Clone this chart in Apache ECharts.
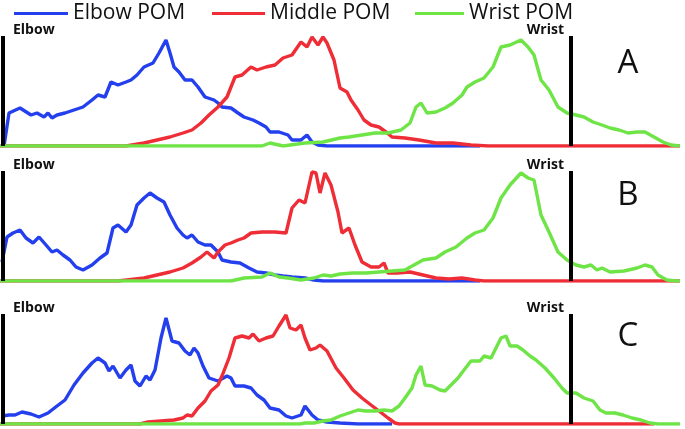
<!DOCTYPE html>
<html>
<head>
<meta charset="utf-8">
<script src="https://cdn.jsdelivr.net/npm/echarts@6/dist/echarts.min.js"></script>
<style>
  html, body { margin: 0; padding: 0; background: #fff; }
  #chart { width: 685px; height: 429px; }
</style>
</head>
<body>
<div id="chart"></div>
<script>
// names
var seriesNames = ['Elbow POM', 'Middle POM', 'Wrist POM'];
var panelNames = ['A', 'B', 'C'];
var elbowPos = 3, wristPos = 571;   // position of the two electrodes

// panel A  [position, signal]
var blueA = [[4,0],[9,33],[20,38],[22,39],[31,31],[37,33],[44,29],[48,33],[52,28],[57,31],[65,33],[74,36],[83,39],[92,46],[98,51],[105,49],[111,64],[118,61],[126,64],[131,66],[137,71],[144,79],[153,83],[159,93],[166,106],[170,93],[174,79],[179,74],[185,66],[192,66],[198,59],[205,49],[214,46],[218,43],[222,39],[231,38],[238,33],[244,29],[253,26],[259,23],[266,19],[270,14],[279,14],[288,11],[292,6],[301,6],[307,11],[312,4],[318,1],[327,0],[480,0]];
var redA = [[0,0],[126,0],[144,3],[157,6],[170,9],[183,13],[192,16],[201,23],[209,31],[218,39],[227,49],[235,69],[242,71],[251,79],[257,76],[266,79],[275,81],[283,88],[292,91],[301,104],[307,99],[312,109],[318,101],[323,109],[327,103],[334,86],[340,58],[347,54],[351,46],[358,36],[364,26],[371,21],[379,19],[386,14],[392,9],[405,8],[419,6],[436,3],[453,3],[471,1],[488,0],[680,0]];
var greenA = [[0,0],[235,0],[262,0],[270,3],[283,0],[305,3],[323,4],[340,8],[349,9],[362,11],[375,13],[388,13],[401,16],[410,23],[416,39],[421,43],[427,33],[436,34],[445,38],[453,43],[462,51],[467,59],[475,64],[484,68],[493,79],[501,99],[510,101],[521,106],[528,99],[534,91],[541,66],[549,56],[558,39],[567,33],[576,31],[584,29],[593,24],[602,21],[610,18],[619,16],[628,13],[637,14],[645,14],[654,9],[663,4],[671,1],[680,0]];

// panel B
var blueB = [[2,19],[7,44],[13,48],[20,51],[26,43],[33,38],[39,44],[46,36],[52,29],[57,31],[63,26],[70,21],[76,14],[83,11],[92,16],[100,23],[107,28],[113,53],[118,56],[126,49],[131,56],[137,76],[144,83],[150,88],[157,83],[164,79],[170,66],[177,53],[183,46],[187,43],[192,46],[198,39],[205,36],[211,36],[218,29],[222,21],[231,19],[240,18],[249,13],[257,9],[266,8],[275,6],[283,5],[292,4],[305,3],[314,1],[323,0],[480,0]];
var redB = [[0,0],[118,0],[144,3],[157,6],[170,9],[183,13],[192,18],[201,24],[207,29],[214,23],[218,29],[225,36],[231,38],[238,41],[244,43],[251,48],[262,49],[275,49],[286,48],[292,73],[299,81],[305,78],[312,109],[316,108],[320,88],[325,108],[331,96],[338,69],[342,48],[349,53],[355,36],[362,19],[371,14],[379,14],[384,18],[388,8],[397,8],[410,9],[423,6],[436,3],[449,2],[462,3],[475,1],[484,0],[680,0]];
var greenB = [[0,0],[231,0],[244,3],[262,4],[270,8],[279,4],[288,3],[301,1],[314,3],[323,6],[331,5],[340,7],[353,8],[366,8],[379,9],[392,10],[405,11],[414,16],[423,21],[436,23],[445,29],[456,34],[467,43],[475,48],[484,51],[493,63],[501,83],[510,96],[521,108],[528,103],[534,101],[541,66],[549,49],[558,29],[567,21],[576,16],[584,14],[591,16],[597,11],[602,13],[610,9],[624,10],[637,13],[645,16],[652,14],[658,6],[667,1],[676,0],[680,0]];

// panel C
var blueC = [[2,8],[9,9],[15,9],[22,12],[31,10],[39,7],[48,11],[57,18],[65,24],[74,39],[83,51],[92,61],[98,66],[105,61],[109,53],[113,58],[120,46],[126,54],[131,59],[135,43],[140,38],[146,48],[150,44],[155,54],[161,86],[166,106],[172,83],[179,81],[185,73],[190,69],[194,76],[198,71],[203,58],[209,46],[218,43],[227,48],[231,46],[235,38],[244,38],[251,36],[257,29],[264,24],[270,16],[279,14],[286,8],[292,6],[301,9],[305,18],[312,9],[318,4],[327,2],[340,1],[358,0],[392,0]];
var redC = [[0,0],[140,0],[148,2],[161,3],[174,4],[183,6],[187,9],[192,8],[198,16],[205,23],[211,33],[218,39],[222,48],[229,66],[235,86],[242,88],[249,86],[253,90],[259,83],[266,86],[273,88],[279,98],[286,109],[290,96],[296,94],[301,99],[305,86],[310,74],[316,76],[320,79],[327,73],[336,56],[344,46],[353,34],[362,26],[371,19],[379,13],[388,6],[395,1],[399,0],[654,0]];
var greenC = [[0,0],[300,0],[305,1],[314,1],[323,3],[331,4],[340,8],[349,11],[358,14],[366,13],[375,13],[384,14],[392,13],[399,18],[405,26],[412,36],[416,49],[421,58],[425,39],[432,38],[440,34],[445,33],[451,39],[458,46],[464,54],[471,63],[480,63],[484,68],[491,66],[497,78],[501,86],[506,88],[510,78],[517,78],[523,74],[530,68],[536,64],[545,56],[554,46],[562,36],[567,31],[576,31],[584,26],[593,23],[600,14],[606,11],[615,11],[623,9],[632,6],[641,4],[650,1],[658,0],[680,0]];

var panelData = [[blueA, redA, greenA], [blueB, redB, greenB], [blueC, redC, greenC]];
var colors = ['#2440ee', '#ee2d36', '#6ee447'];
var panelTops = [36, 171, 314];
var panelHeight = 110;
var letterOffsets = [28, 25, 23];
var legendLefts = [9, 207, 410];
var legendWidths = [54, 53, 49];

var myChart = echarts.init(document.getElementById('chart'));

var grids = [], xAxes = [], yAxes = [], series = [], graphics = [], legends = [];
panelTops.forEach(function (top, p) {
    grids.push({left: 0, right: 0, top: top, height: panelHeight});
    xAxes.push({type: 'value', gridIndex: p, min: 0, max: 685, show: false});
    yAxes.push({type: 'value', gridIndex: p, min: 0, max: 110, show: false});
    panelData[p].forEach(function (d, s) {
        var item = {
            name: seriesNames[s],
            type: 'line',
            xAxisIndex: p,
            yAxisIndex: p,
            data: d,
            showSymbol: false,
            symbol: 'none',
            z: 2 + s,
            lineStyle: {color: colors[s], width: 3.4},
            itemStyle: {color: colors[s]}
        };
        if (s == 0) {
            // electrode bars
            item.markLine = {
                silent: true,
                symbol: 'none',
                label: {show: false},
                lineStyle: {color: '#000', width: 4, type: 'solid'},
                data: [{xAxis: elbowPos}, {xAxis: wristPos}],
                z: 10
            };
        }
        series.push(item);
    });
    graphics.push({type: 'text', x: 13, y: top - 6,
        style: {text: 'Elbow', font: 'bold 14px "Open Sans", sans-serif', fill: '#111', textVerticalAlign: 'middle'}});
    graphics.push({type: 'text', x: 564, y: top - 6,
        style: {text: 'Wrist', font: 'bold 14px "Open Sans", sans-serif', fill: '#111', textAlign: 'right', textVerticalAlign: 'middle'}});
    graphics.push({type: 'text', x: 628, y: top + letterOffsets[p],
        style: {text: panelNames[p], font: '33px "Open Sans", sans-serif', fill: '#111', textAlign: 'center', textVerticalAlign: 'middle'}});
});

seriesNames.forEach(function (name, i) {
    legends.push({
        top: -2,
        left: legendLefts[i],
        itemWidth: legendWidths[i],
        itemHeight: 3,
        icon: 'rect',
        textStyle: {fontSize: 21, fontFamily: 'Open Sans', color: '#111'},
        data: [name]
    });
});

var options = {
    backgroundColor: '#fff',
    animation: false,
    legend: legends,
    grid: grids,
    xAxis: xAxes,
    yAxis: yAxes,
    series: series,
    graphic: graphics
};
myChart.setOption(options, true);
</script>
</body>
</html>
